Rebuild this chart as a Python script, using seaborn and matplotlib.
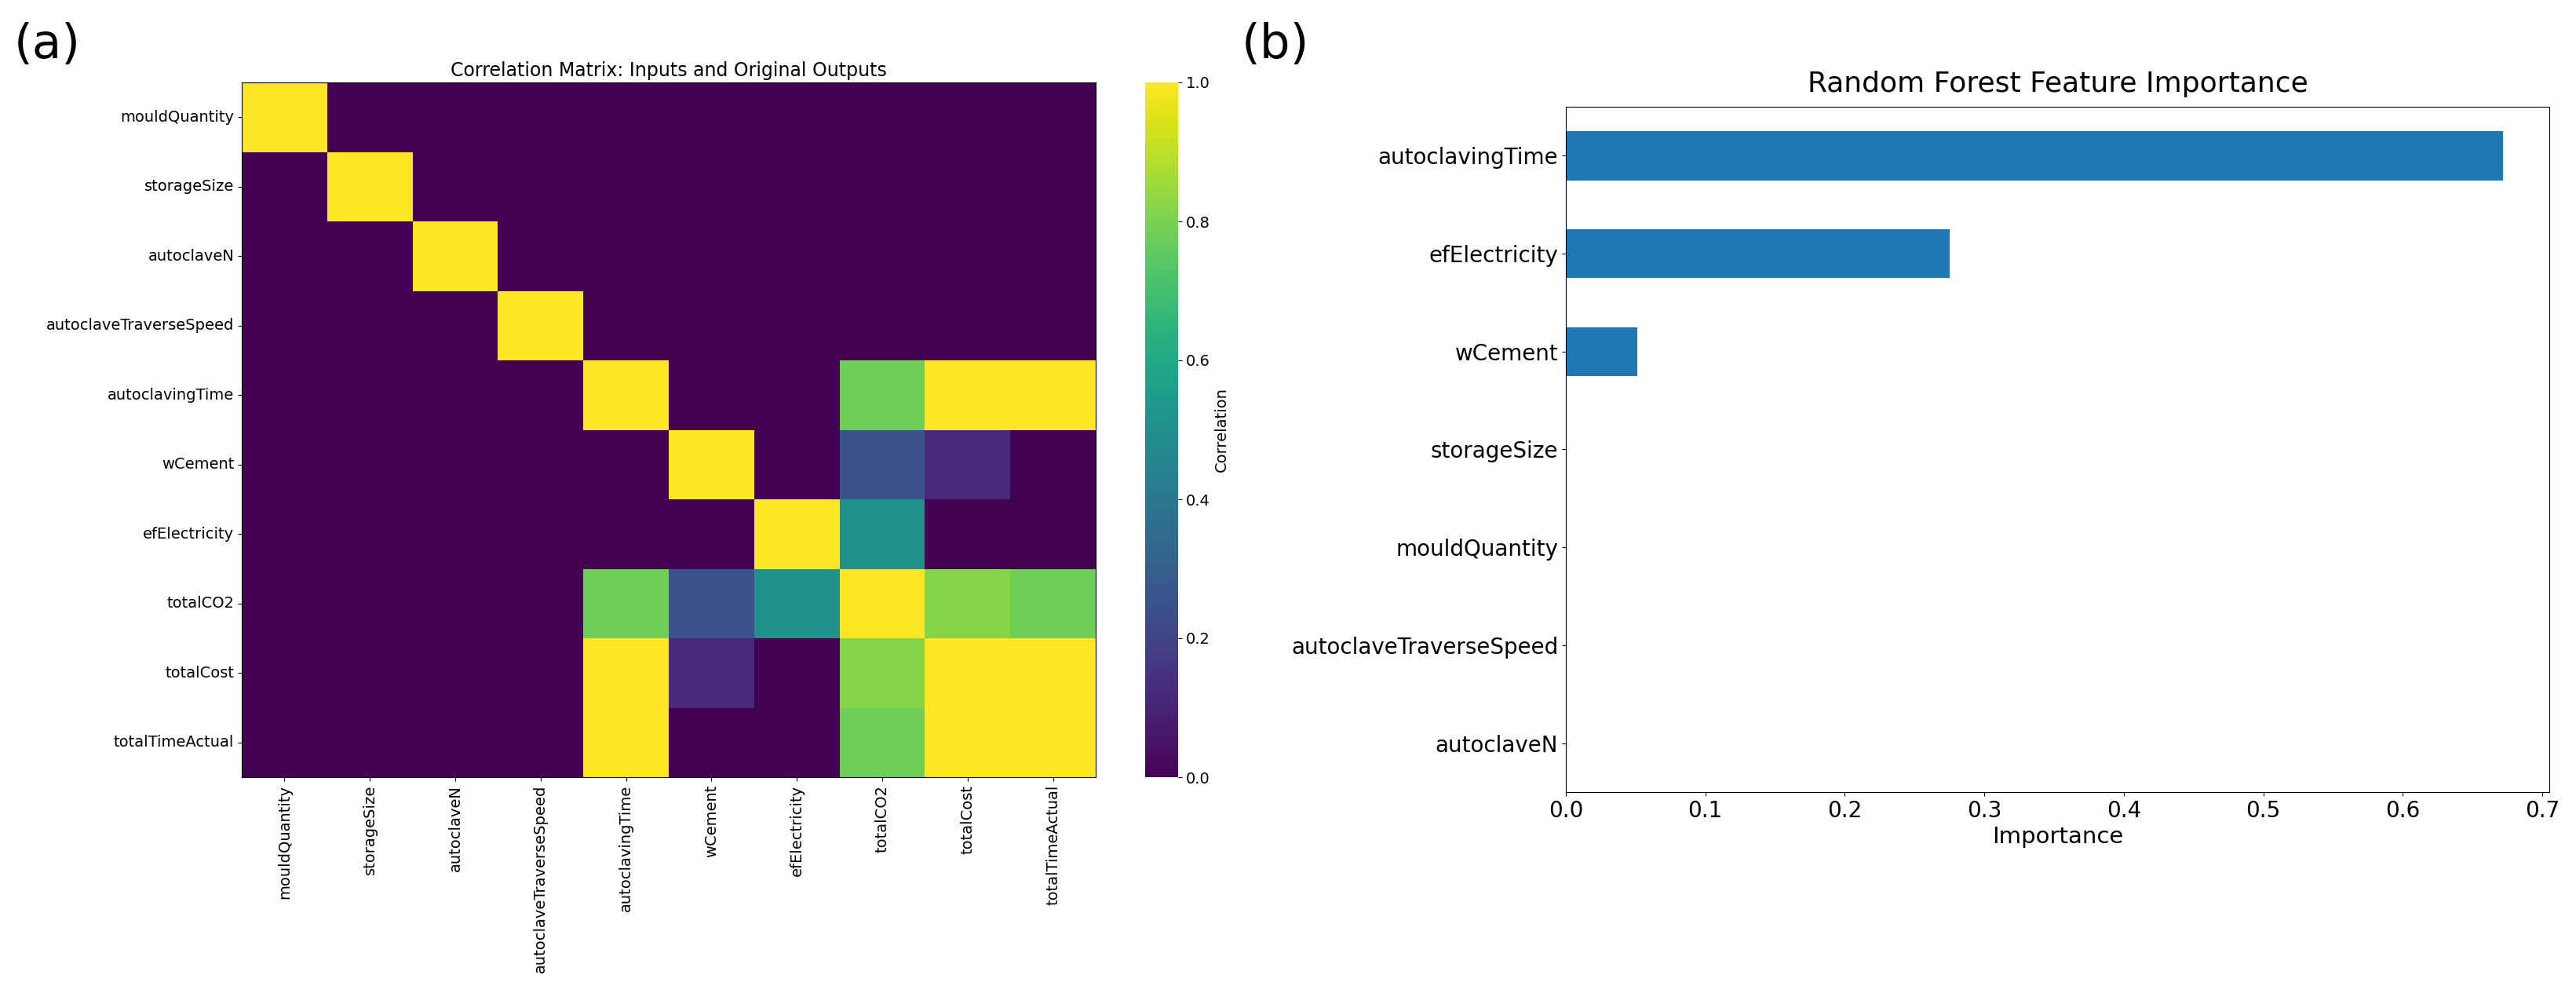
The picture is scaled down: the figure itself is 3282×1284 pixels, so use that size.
import numpy as np
import pandas as pd
import matplotlib
matplotlib.use("Agg")
import matplotlib.pyplot as plt
import seaborn as sns

names = ["mouldQuantity", "storageSize", "autoclaveN", "autoclaveTraverseSpeed",
         "autoclavingTime", "wCement", "efElectricity", "totalCO2", "totalCost",
         "totalTimeActual"]

# upper triangle correlations (pairs not listed are 0 / clipped)
pairs = {
    ("autoclavingTime", "totalCO2"): 0.78,
    ("autoclavingTime", "totalCost"): 1.0,
    ("autoclavingTime", "totalTimeActual"): 1.0,
    ("wCement", "totalCO2"): 0.25,
    ("wCement", "totalCost"): 0.12,
    ("efElectricity", "totalCO2"): 0.50,
    ("totalCO2", "totalCost"): 0.82,
    ("totalCO2", "totalTimeActual"): 0.78,
    ("totalCost", "totalTimeActual"): 1.0,
}

feat_names = ["autoclavingTime", "efElectricity", "wCement", "storageSize",
              "mouldQuantity", "autoclaveTraverseSpeed", "autoclaveN"]
feat_imp = [0.672, 0.275, 0.051, 0.0, 0.0, 0.0, 0.0]

corr = pd.DataFrame(np.eye(len(names)), index=names, columns=names)
for (a, b), v in pairs.items():
    corr.loc[a, b] = v
    corr.loc[b, a] = v

fig = plt.figure(figsize=(32.82, 12.84), dpi=100)

# heatmap
ax1 = fig.add_axes([308 / 3282, 1 - 990 / 1284, 1088 / 3282, 885 / 1284])
cax = fig.add_axes([1459 / 3282, 1 - 990 / 1284, 42 / 3282, 885 / 1284])
sns.heatmap(corr, ax=ax1, cbar_ax=cax, cmap="viridis", vmin=0, vmax=1,
            cbar_kws={"label": "Correlation"})
ax1.set_title("Correlation Matrix: Inputs and Original Outputs", fontsize=17)
ax1.set_xticklabels(names, rotation=90, fontsize=14)
ax1.set_yticklabels(names, rotation=0, fontsize=14)
for s in ax1.spines.values():
    s.set_visible(True)
cax.tick_params(labelsize=14)
cax.yaxis.label.set_size(14)

# bar chart
ax2 = fig.add_axes([1995 / 3282, 1 - 1009 / 1284, 1253 / 3282, 873 / 1284])
sns.barplot(x=feat_imp, y=feat_names, order=feat_names, ax=ax2,
            color="#1f77b4", width=0.5, saturation=1)
ax2.set_xlim(0, 0.705)
ax2.set_xticks(np.arange(0, 0.71, 0.1))
ax2.set_title("Random Forest Feature Importance", fontsize=26, pad=14)
ax2.set_xlabel("Importance", fontsize=21)
ax2.set_ylabel("")
ax2.tick_params(labelsize=20)

fig.text(18 / 3282, 1 - 58 / 1284, "(a)", fontsize=44, va="center")
fig.text(1582 / 3282, 1 - 58 / 1284, "(b)", fontsize=44, va="center")

fig.savefig("out.png", dpi=100)
